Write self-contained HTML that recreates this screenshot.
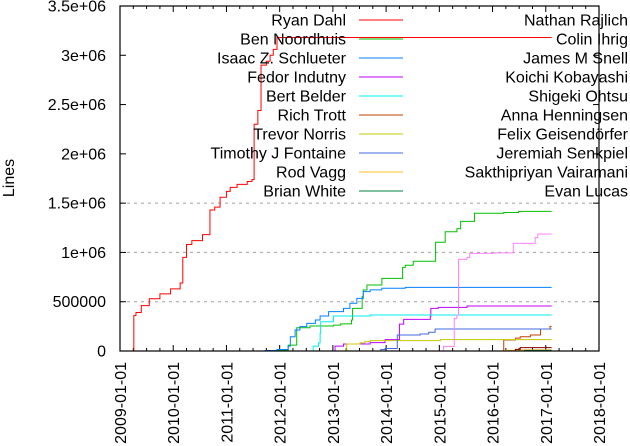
<!DOCTYPE html>
<html><head><meta charset="utf-8"><style>
html,body{margin:0;padding:0;background:#fff;width:630px;height:446px;overflow:hidden}
svg{font-family:"Liberation Sans",sans-serif}
</style></head><body>
<svg id="chart" width="630" height="446" viewBox="0 0 630 446" xmlns="http://www.w3.org/2000/svg"></svg>
<script>
const yTicks=[0,500000,1000000,1500000,2000000,2500000,3000000,3500000];
const yTickLabels=["0","500000","1e+06","1.5e+06","2e+06","2.5e+06","3e+06","3.5e+06"];
const xTicks=[2009,2010,2011,2012,2013,2014,2015,2016,2017,2018];
const xTickLabels=["2009-01-01","2010-01-01","2011-01-01","2012-01-01","2013-01-01","2014-01-01","2015-01-01","2016-01-01","2017-01-01","2018-01-01"];
const gridValues=[500000,1000000,1500000];
const seriesNames=["Ryan Dahl","Ben Noordhuis","Isaac Z. Schlueter","Fedor Indutny","Bert Belder","Rich Trott","Trevor Norris","Timothy J Fontaine","Rod Vagg","Brian White","Nathan Rajlich","Colin Ihrig","James M Snell","Koichi Kobayashi","Shigeki Ohtsu","Anna Henningsen","Felix Geisendörfer","Jeremiah Senkpiel","Sakthipriyan Vairamani","Evan Lucas"];
const seriesColors=["#ff0000","#00c000","#0080ff","#c000ff","#00eeee","#c04000","#c8c800","#4169e1","#ffc020","#008040","#ff80ff","#8b0000","#306080","#408000","#c080ff","#804000","#a0a0a0","#000080","#ff8000","#004000"];
const ryanDahl=[[2009.21,0],[2009.26,360000],[2009.3,390000],[2009.4,460000],[2009.55,530000],[2009.75,580000],[2009.95,630000],[2010.13,690000],[2010.18,950000],[2010.25,1080000],[2010.35,1120000],[2010.55,1180000],[2010.69,1430000],[2010.78,1460000],[2010.88,1560000],[2011.0,1620000],[2011.07,1660000],[2011.2,1690000],[2011.39,1720000],[2011.48,1740000],[2011.52,2300000],[2011.59,2440000],[2011.65,2900000],[2011.75,2940000],[2011.82,3000000],[2011.88,3060000],[2011.95,3180000],[2017.11,3180000]];
const benNoordhuis=[[2011.73,0],[2011.95,10000],[2012.16,60000],[2012.32,236000],[2012.57,253000],[2013.01,263000],[2013.14,275000],[2013.35,314000],[2013.37,433000],[2013.55,551000],[2013.57,619000],[2013.64,670000],[2013.92,737000],[2014.31,849000],[2014.36,870000],[2014.51,910000],[2014.93,1103000],[2015.11,1210000],[2015.33,1240000],[2015.40,1315000],[2015.66,1397000],[2016.21,1405000],[2016.49,1417000],[2017.11,1417000]];
const isaacSchlueter=[[2010.8,0],[2011.73,5000],[2011.95,15000],[2012.16,50000],[2012.20,145000],[2012.29,213000],[2012.38,247000],[2012.51,280000],[2012.67,314000],[2012.76,355000],[2012.92,400000],[2013.20,433000],[2013.32,484000],[2013.45,534000],[2013.57,602000],[2013.70,620000],[2013.92,636000],[2014.36,646000],[2017.11,646000]];
const fedorIndutny=[[2013.04,0],[2013.04,50000],[2013.20,71000],[2013.70,85000],[2013.98,115000],[2014.25,273000],[2014.33,321000],[2014.83,348000],[2014.84,433000],[2014.98,443000],[2015.52,456000],[2017.11,456000]];
const bertBelder=[[2011.73,0],[2012.63,50000],[2012.73,82000],[2012.76,179000],[2012.77,297000],[2013.01,355000],[2013.70,365000],[2017.11,365000]];
const richTrott=[[2009.5,0],[2016.21,0],[2016.21,112000],[2016.43,130000],[2016.52,145000],[2016.71,162000],[2016.90,223000],[2017.08,250000],[2017.11,250000]];
const trevorNorris=[[2013.26,0],[2013.26,71000],[2013.51,82000],[2013.60,95000],[2013.70,105000],[2015.02,115000],[2017.11,115000]];
const timothyFontaine=[[2013.86,0],[2013.90,15000],[2013.98,25000],[2014.21,162000],[2014.64,172000],[2014.80,190000],[2014.92,223000],[2017.11,223000]];
const rodVagg=[[2016.24,0],[2016.24,8000],[2016.45,12000],[2017.11,12000]];
const brianWhite=[[2016.6,0],[2016.6,6000],[2017.11,6000]];
const nathanRajlich=[[2015.08,0],[2015.08,47000],[2015.28,331000],[2015.33,365000],[2015.36,930000],[2015.52,950000],[2015.57,990000],[2016.0,995000],[2016.39,1092000],[2016.80,1153000],[2016.85,1187000],[2017.11,1187000]];
const colinIhrig=[[2016.43,0],[2016.43,17000],[2016.52,34000],[2017.11,34000]];
const seriesData=[ryanDahl,benNoordhuis,isaacSchlueter,fedorIndutny,bertBelder,richTrott,trevorNorris,timothyFontaine,rodVagg,brianWhite,nathanRajlich,colinIhrig];

const svg=document.getElementById('chart');
const NS='http://www.w3.org/2000/svg';
const L=120,R=599,T=6,B=351;
const xMin=2009,xMax=2018,yMax=3500000;
function xs(v){return L+(v-xMin)/(xMax-xMin)*(R-L);}
function ys(v){return B-v/yMax*(B-T);}
function mk(tag,attrs,parent){const e=document.createElementNS(NS,tag);for(const k in attrs)e.setAttribute(k,attrs[k]);(parent||svg).appendChild(e);return e;}

gridValues.forEach(v=>{
  const g=mk('line',{x1:L,x2:R,y1:ys(v),y2:ys(v),stroke:'#a0a0a0','stroke-dasharray':'3,4','stroke-width':1});
  
  
});
yTicks.forEach((v,i)=>{
  const y=ys(v);
  mk('line',{x1:L,x2:L+6,y1:y,y2:y,stroke:'#000'});
  mk('line',{x1:R-6,x2:R,y1:y,y2:y,stroke:'#000'});
  const t=mk('text',{x:106,y:y+5.5,'text-anchor':'end','font-size':16,fill:'#000'});
  t.textContent=yTickLabels[i];
  
  
});
xTicks.forEach((v,i)=>{
  const x=xs(v);
  mk('line',{x1:x,x2:x,y1:B,y2:B-6,stroke:'#000'});
  mk('line',{x1:x,x2:x,y1:T,y2:T+6,stroke:'#000'});
  if(i<xTicks.length-1){for(let q=1;q<4;q++){const mx=xs(v+q/4);
    mk('line',{x1:mx,x2:mx,y1:B,y2:B-3,stroke:'#000'});
    mk('line',{x1:mx,x2:mx,y1:T,y2:T+3,stroke:'#000'});}}
  const t=mk('text',{x:0,y:0,'text-anchor':'end','font-size':16,fill:'#000',transform:`translate(${x+6},${362}) rotate(-90)`});
  t.textContent=xTickLabels[i];
  
  
});
seriesData.forEach((pts,si)=>{
  let d='';
  pts.forEach((p,j)=>{const x=xs(p[0]),y=ys(p[1]);
    if(j===0)d+=`M${x},${y}`;else d+=`H${x}V${y}`;});
  const p=mk('path',{d:d,fill:'none',stroke:seriesColors[si],'stroke-width':1});
  
  
});
seriesNames.forEach((n,i)=>{
  const col=Math.floor(i/10),row=i%10;
  const y=20+row*19;
  const tx=col===0?346:628;
  const t=mk('text',{x:tx,y:y+5.5,'text-anchor':'end','font-size':16,fill:'#000'});
  t.textContent=n;
  
  
  if(col===0){
    const l=mk('line',{x1:359,x2:403,y1:y,y2:y,stroke:seriesColors[i],'stroke-width':1});
    
    
  }
});
const f=mk('rect',{x:L,y:T,width:R-L,height:B-T,fill:'none',stroke:'#000','stroke-width':1.2});


const yl=mk('text',{x:0,y:0,'text-anchor':'middle','font-size':16,fill:'#000',transform:'translate(14,178) rotate(-90)'});
yl.textContent='Lines';


</script>
</body></html>
